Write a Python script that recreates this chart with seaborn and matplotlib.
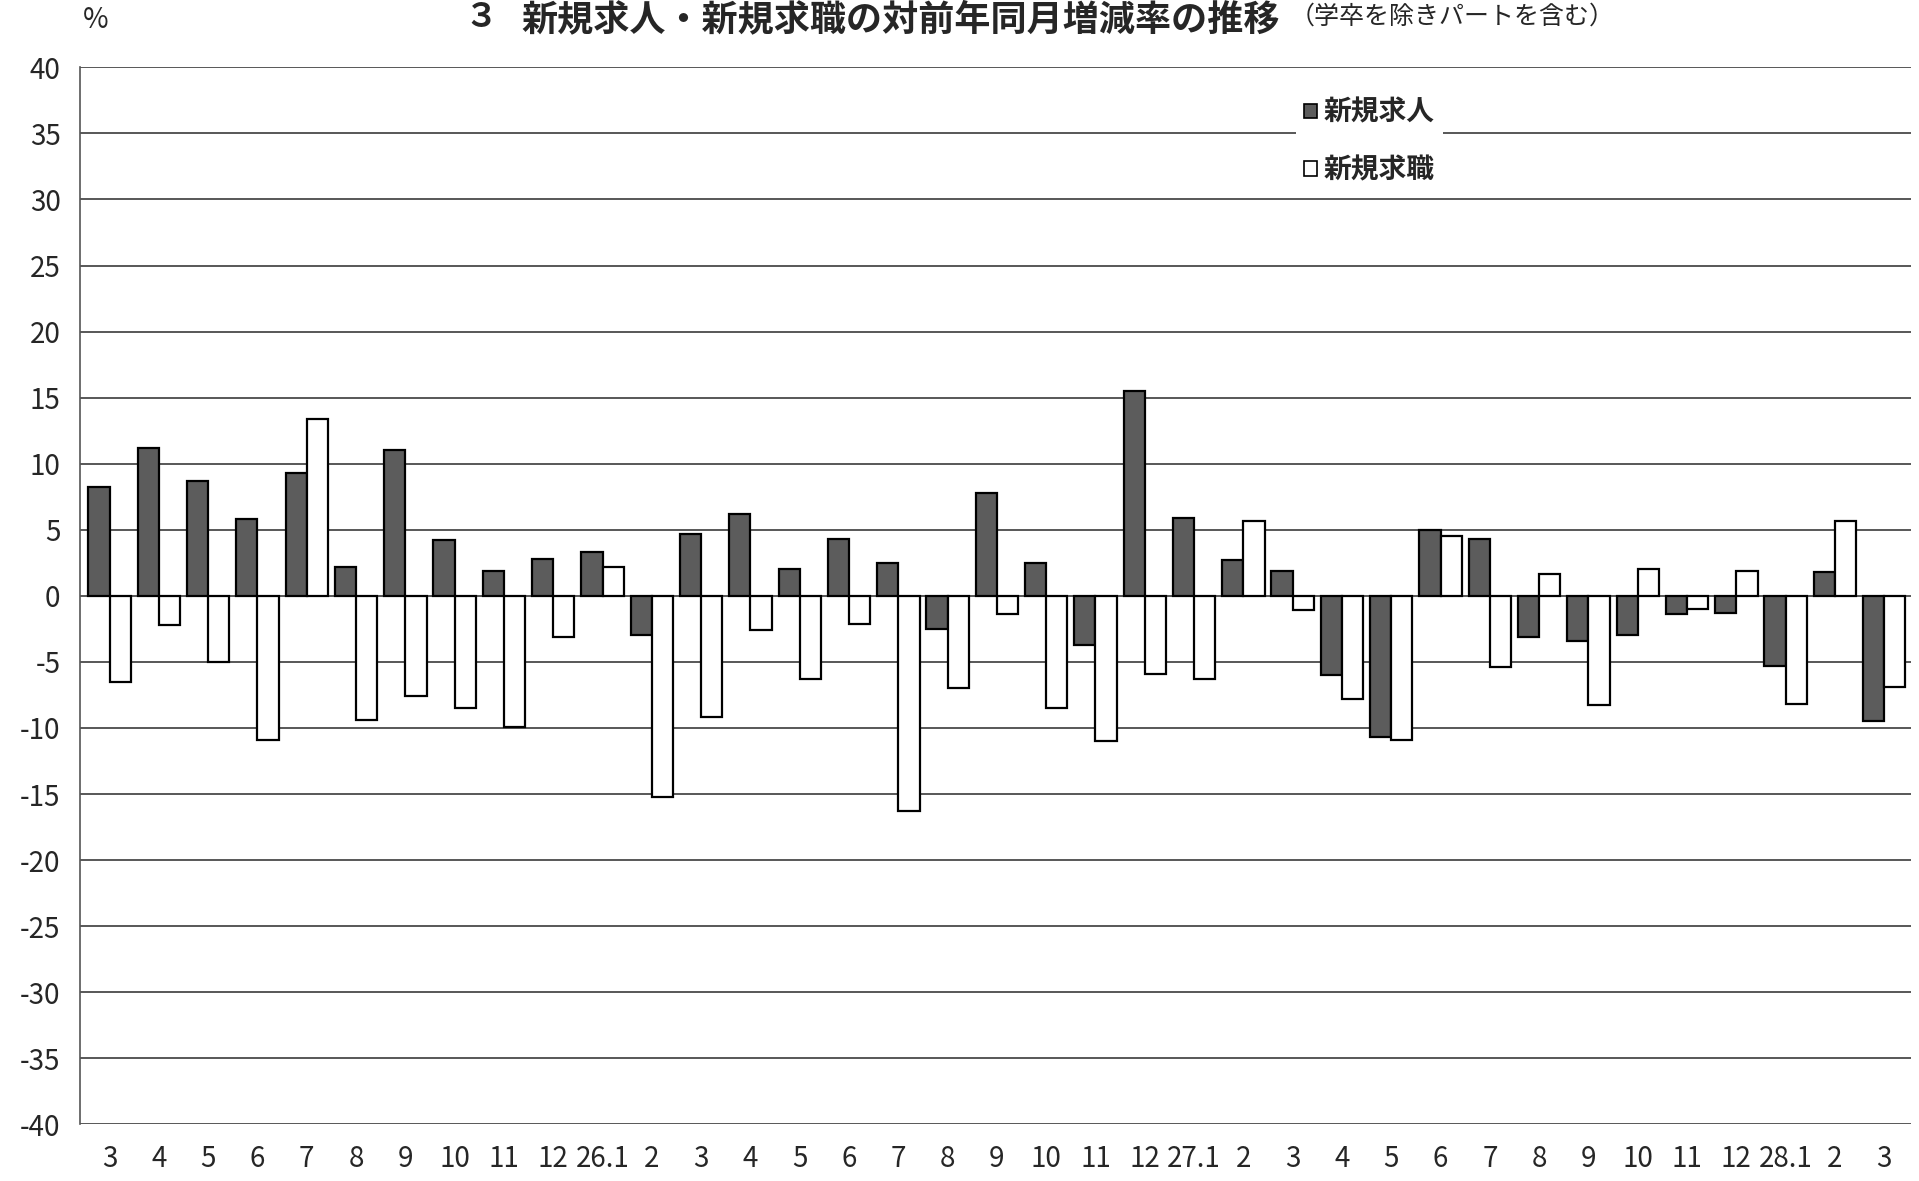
import pandas as pd
import numpy as np
import matplotlib
matplotlib.use("Agg")
import matplotlib.pyplot as plt
import seaborn as sns
from matplotlib.patches import Patch

# month labels (H25.3 - H28.3)
months = ['3', '4', '5', '6', '7', '8', '9', '10', '11', '12',
          '26.1', '2', '3', '4', '5', '6', '7', '8', '9', '10', '11', '12',
          '27.1', '2', '3', '4', '5', '6', '7', '8', '9', '10', '11', '12',
          '28.1', '2', '3']

# 新規求人 (dark bars)
new_openings = [8.2, 11.2, 8.7, 5.8, 9.3, 2.2, 11.0, 4.2, 1.9, 2.8,
                3.3, -3.0, 4.7, 6.2, 2.0, 4.3, 2.5, -2.5, 7.8, 2.5, -3.7, 15.5,
                5.9, 2.7, 1.9, -6.0, -10.7, 5.0, 4.3, -3.1, -3.4, -3.0, -1.35, -1.3,
                -5.3, 1.8, -9.5]

# 新規求職 (white bars)
new_seekers = [-6.5, -2.2, -5.0, -10.9, 13.4, -9.4, -7.6, -8.5, -9.9, -3.1,
               2.2, -15.2, -9.2, -2.6, -6.3, -2.1, -16.3, -7.0, -1.4, -8.5, -11.0, -5.9,
               -6.3, 5.7, -1.1, -7.8, -10.9, 4.5, -5.4, 1.65, -8.3, 2.0, -1.0, 1.9,
               -8.2, 5.7, -6.9]

series_names = ['新規求人', '新規求職']
yticks = list(range(-40, 45, 5))

df = pd.DataFrame({
    'pos': list(range(len(months))) * 2,
    'series': [series_names[0]] * len(months) + [series_names[1]] * len(months),
    'value': new_openings + new_seekers,
})

sns.set_style("white")
plt.rcParams['font.family'] = ['Noto Sans CJK JP', 'DejaVu Sans']

fig = plt.figure(figsize=(19.19, 11.81), dpi=100)
ax = fig.add_axes([0.0417, 0.048, 0.9543, 0.895])

colors = {'新規求人': '#5c5c5c', '新規求職': 'white'}
sns.barplot(data=df, x='pos', y='value', hue='series', hue_order=series_names,
            palette=colors, edgecolor='black', linewidth=1.6, width=0.86,
            dodge=True, legend=False, ax=ax, zorder=3)

ax.set_ylim(-40, 40)
ax.set_xlim(-0.6, len(months) - 0.45)
ax.set_yticks(yticks)
ax.set_yticklabels([str(t) for t in yticks], fontsize=20)
ax.set_xticks(range(len(months)))
ax.set_xticklabels(months, fontsize=20)
ax.tick_params(axis='y', length=0, pad=14)
ax.tick_params(axis='x', length=0, pad=14)
ax.set_xlabel('')
ax.set_ylabel('')

ax.yaxis.grid(True, color='#4a4a4a', linewidth=1.3, zorder=0)
ax.set_axisbelow(True)
for side in ['top', 'right', 'bottom']:
    ax.spines[side].set_visible(False)
ax.spines['left'].set_color('#555555')
ax.spines['left'].set_linewidth(1.2)

fig.text(0.05, 0.983, '%', fontsize=20, ha='center', va='center')

handles = [Patch(facecolor=colors[n], edgecolor='black', linewidth=1.2) for n in series_names]
leg = ax.legend(handles, series_names, loc='upper left', bbox_to_anchor=(0.664, 0.978),
                fontsize=20, frameon=True, facecolor='white', edgecolor='none',
                framealpha=1, handlelength=0.45, handleheight=0.45, handletextpad=0.25,
                labelspacing=1.05, borderpad=0.3, borderaxespad=0)
leg.set_zorder(5)
for t in leg.get_texts():
    t.set_fontweight('bold')

# title at the top edge
fig.text(0.242, 0.999, '３', fontsize=24, fontweight='bold', ha='left', va='top')
fig.text(0.667, 0.999, '新規求人・新規求職の対前年同月増減率の推移', fontsize=26,
         fontweight='bold', ha='right', va='top')
fig.text(0.672, 0.997, '（学卒を除きパートを含む）', fontsize=18, ha='left', va='top')

fig.savefig('out.png', dpi=100, facecolor='white')
